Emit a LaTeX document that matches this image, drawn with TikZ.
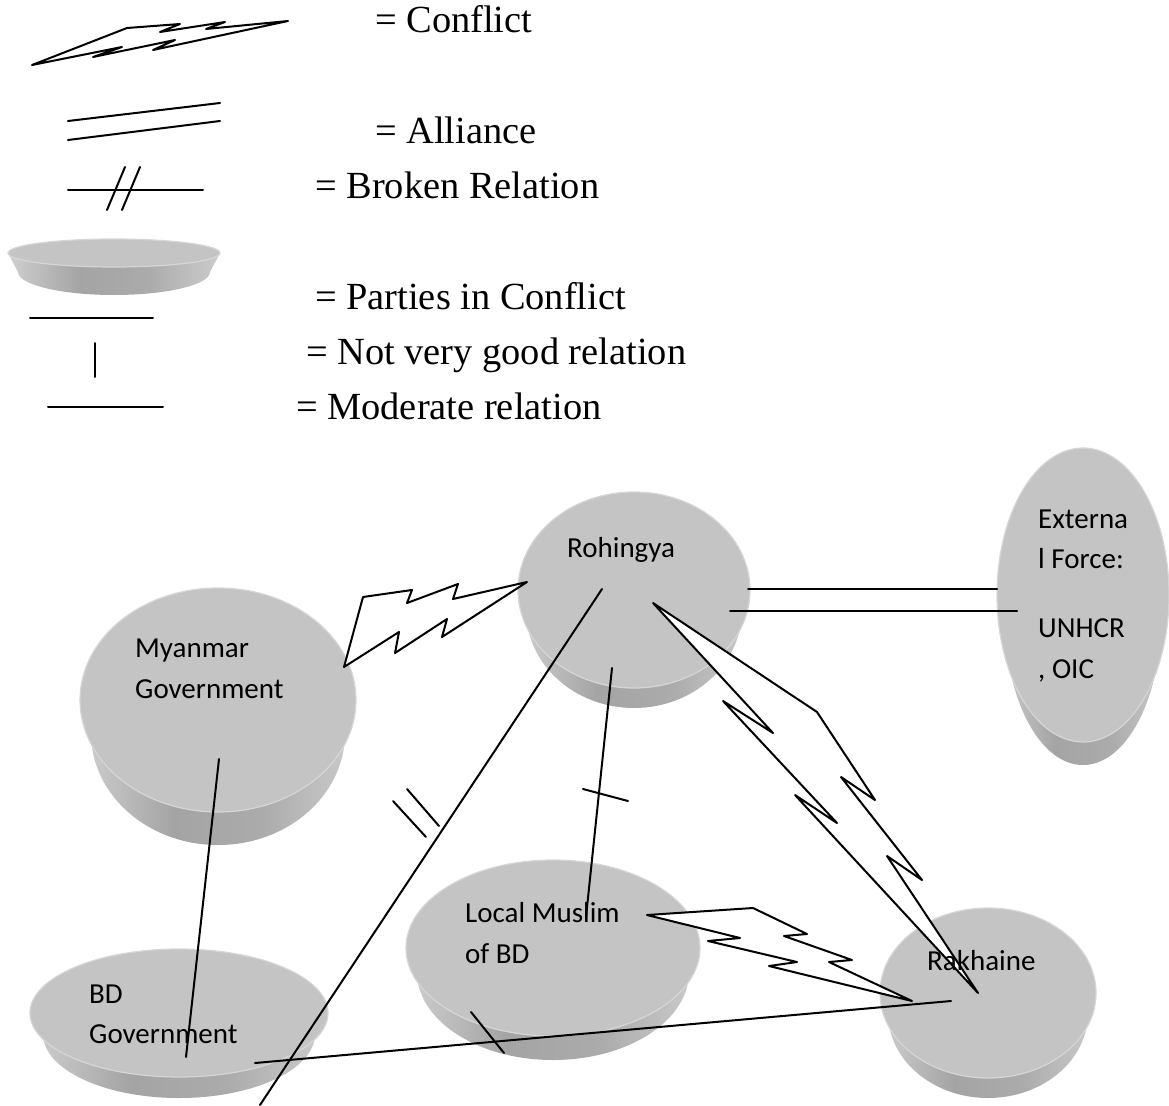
\documentclass[tikz,border=0pt]{standalone}
\usepackage{fontspec}
\setmainfont{Liberation Serif}
\newfontfamily\calib{Carlito}
\usetikzlibrary{shapes.geometric}
\definecolor{topgray}{HTML}{C4C4C4}
\definecolor{rimgray}{HTML}{D6D6D6}
\definecolor{sideL}{HTML}{CFCFCF}
\definecolor{sideM}{HTML}{A4A4A4}
\definecolor{sideMM}{HTML}{ABABAB}
\definecolor{sideR}{HTML}{CCCCCC}
\pgfdeclarehorizontalshading{sideshade}{100bp}{color(0bp)=(sideL); color(25bp)=(sideL); color(42bp)=(sideM); color(58bp)=(sideMM); color(75bp)=(sideR); color(100bp)=(sideR)}
% name, cx, cy, rx, ry, dy, rx2, ry2
\newcommand\mydisc[8]{%
  \shade[shading=sideshade]
    ({#2-#4},#3) -- ({#2-#7},{#3+#6}) arc[start angle=180,end angle=360,x radius=#7pt,y radius=#8pt] -- ({#2+#4},#3) -- cycle;
  \node[ellipse,inner sep=0pt,minimum width={2*#4pt},minimum height={2*#5pt},fill=topgray,draw=rimgray,line width=1.2pt] (#1) at (#2,#3) {};
}
\tikzset{
  conn/.style={line width=2pt,line cap=round},
  bolt/.style={draw,line width=2pt,fill=white,line join=round},
  lbl/.style={font=\calib\fontsize{29}{35}\selectfont,inner sep=0pt,anchor=base west},
  leg/.style={font=\fontsize{38.4}{46}\selectfont,inner sep=0pt,anchor=base west}
}
\begin{document}
\begin{tikzpicture}[x=1pt,y=-1pt]
\useasboundingbox (0,0) rectangle (1169,1105);
\fill[white] (0,0) rectangle (1169,1105);

% ---------- legend ----------
\draw[bolt] (32,65) -- (127,28) -- (180,24) -- (160,32) -- (225,22) -- (206,29) -- (288,21)
  -- (153,50) -- (175,40) -- (93,57) -- (122,47) -- cycle;
\coordinate (la1) at (68,121); \coordinate (la2) at (220,103);
\coordinate (la3) at (68,140); \coordinate (la4) at (220,121);
\draw[conn] (la1) -- (la2);
\draw[conn] (la3) -- (la4);
\coordinate (lb1) at (68,190); \coordinate (lb2) at (203,190);
\draw[conn] (lb1) -- (lb2);
\draw[conn] (107,210) -- (125,167);
\draw[conn] (122,210) -- (140,167);
\mydisc{legdisc}{114}{253}{106}{14}{19}{96}{23}
\coordinate (lp1) at (30,318); \coordinate (lp2) at (153,318);
\draw[conn] (lp1) -- (lp2);
\coordinate (ln1) at (95,343); \coordinate (ln2) at (95,377);
\draw[conn] (ln1) -- (ln2);
\coordinate (lm1) at (48,407); \coordinate (lm2) at (163,407);
\draw[conn] (lm1) -- (lm2);

\node[leg] (tConf) at (375,33) {= Conflict};
\node[leg] (tAll) at (375,143) {= Alliance};
\node[leg] (tBro) at (315,198) {= Broken Relation};
\node[leg] (tPar) at (315,309) {= Parties in Conflict};
\node[leg] (tNot) at (306,364) {= Not very good relation};
\node[leg] (tMod) at (296,419) {= Moderate relation};

% ---------- discs ----------
\mydisc{mya}{218}{700}{138}{112}{33}{127}{112}
\mydisc{roh}{634}{590}{116}{98}{20}{108}{98}
\mydisc{ext}{1083}{595}{86}{147}{23}{78}{147}
\mydisc{bdg}{179}{1013}{149}{64}{21}{136}{64}
\mydisc{lmb}{553}{948}{147}{88}{24}{136}{88}
\mydisc{rak}{988}{993}{108}{85}{20}{100}{85}

% ---------- connection points ----------
\coordinate (mya-s) at (219,759);
\coordinate (bdg-n) at (186,1057);
\coordinate (bdg-e) at (255,1063);
\coordinate (rak-w) at (951,1001);
\coordinate (roh-sw) at (602,589);
\coordinate (bot) at (260,1105);
\coordinate (roh-s) at (612,668);
\coordinate (lmb-n) at (586,917);
\coordinate (roh-e1) at (748,589);
\coordinate (ext-w1) at (997,589);
\coordinate (roh-e2) at (730,611);
\coordinate (ext-w2) at (1017,611);

% moderate / other relations
\draw[conn] (mya-s) -- (bdg-n);
\draw[conn] (bdg-e) -- (rak-w);
\draw[conn] (roh-sw) -- (bot);
\draw[conn] (roh-s) -- (lmb-n);
% alliance
\draw[conn] (roh-e1) -- (ext-w1);
\draw[conn] (roh-e2) -- (ext-w2);
% marks
\draw[conn] (393,801) -- (426,837);
\draw[conn] (407,789) -- (439,826);
\draw[conn] (583,789) -- (628,801);
\draw[conn] (471,1012) -- (504,1053);

% conflicts
\coordinate (b1a) at (344,667); \coordinate (b1b) at (527,582);
\draw[bolt] (b1a) -- (363,597) -- (412,590) -- (407,603) -- (458,584) -- (453,599) -- (b1b)
  -- (442,637) -- (447,619) -- (395,653) -- (399,632) -- cycle;
\coordinate (b2a) at (653,603); \coordinate (b2b) at (978,993);
\draw[bolt] (b2a) -- (817,712) -- (875,800) -- (841,777) -- (922,880) -- (887,856) -- (b2b)
  -- (795,795) -- (837,823) -- (723,701) -- (773,733) -- cycle;
\coordinate (b3a) at (647,915); \coordinate (b3b) at (912,1001);
\draw[bolt] (b3a) -- (753,908) -- (807,934) -- (784,936) -- (852,960) -- (829,962) -- (b3b)
  -- (769,966) -- (797,962) -- (708,941) -- (740,938) -- cycle;

% ---------- labels ----------
\node[lbl] (myaT1) at (135,657) {Myanmar};
\node[lbl] (myaT2) at (135,698) {Government};
\node[lbl] (rohT) at (567,557) {Rohingya};
\node[lbl] (extT1) at (1038,528) {Externa};
\node[lbl] (extT2) at (1038,568) {l Force:};
\node[lbl] (extT3) at (1038,637) {UNHCR};
\node[lbl] (extT4) at (1038,678) {, OIC};
\node[lbl] (bdgT1) at (89,1003) {BD};
\node[lbl] (bdgT2) at (89,1043) {Government};
\node[lbl] (lmbT1) at (465,922) {Local Muslim};
\node[lbl] (lmbT2) at (465,963) {of BD};
\node[lbl] (rakT) at (927,970) {Rakhaine};
\end{tikzpicture}
\end{document}
